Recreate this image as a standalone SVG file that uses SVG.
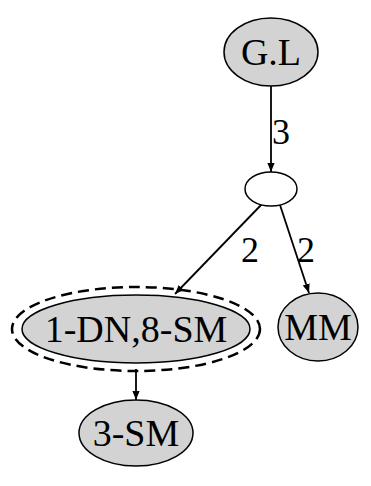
<svg xmlns="http://www.w3.org/2000/svg" width="371" height="486" viewBox="0 0 371 486">
<defs>
<marker id="arr" viewBox="0 0 10 10" refX="10" refY="5" markerWidth="9" markerHeight="9" markerUnits="userSpaceOnUse" orient="auto">
<path d="M0,1 L10,5 L0,9 z" fill="#000"/>
</marker>
</defs>
<style>
.node{fill:#d3d3d3;stroke:#000;stroke-width:1.5}
.blank{fill:#fff;stroke:#000;stroke-width:1.5}
.lbl{font-family:"Liberation Serif","Times New Roman",serif;font-size:38px;fill:#000;text-anchor:middle}
.elbl{font-family:"Liberation Serif","Times New Roman",serif;font-size:36px;fill:#000;text-anchor:middle}
.edge{stroke:#000;stroke-width:1.8;fill:none;marker-end:url(#arr)}
.dash{fill:none;stroke:#000;stroke-width:2.5;stroke-dasharray:11,6}
</style>
<rect width="371" height="486" fill="#fff"/>
<g id="connectors">
<line class="edge" x1="271" y1="86" x2="271" y2="172"/>
<line class="edge" x1="262" y1="204" x2="175" y2="294"/>
<line class="edge" x1="280" y1="205" x2="309" y2="293"/>
<line class="edge" x1="136" y1="369" x2="136" y2="400"/>
<text class="elbl" x="281" y="144">3</text>
<text class="elbl" x="250" y="262">2</text>
<text class="elbl" x="306" y="262">2</text>
</g>
<g id="GL">
<ellipse class="node" cx="271" cy="52" rx="47" ry="34"/>
<text class="lbl" x="271" y="65">G.L</text>
</g>
<g id="blank">
<ellipse class="blank" cx="271" cy="189" rx="26" ry="17"/>
</g>
<g id="DNSM">
<ellipse class="dash" cx="136" cy="329" rx="124" ry="42"/>
<ellipse class="node" cx="136" cy="329" rx="114" ry="34"/>
<text class="lbl" x="136" y="342">1-DN,8-SM</text>
</g>
<g id="MM">
<ellipse class="node" cx="318" cy="327" rx="40" ry="34"/>
<text class="lbl" x="318" y="340">MM</text>
</g>
<g id="SM3">
<ellipse class="node" cx="136" cy="433" rx="57" ry="33"/>
<text class="lbl" x="136" y="446">3-SM</text>
</g>
</svg>
